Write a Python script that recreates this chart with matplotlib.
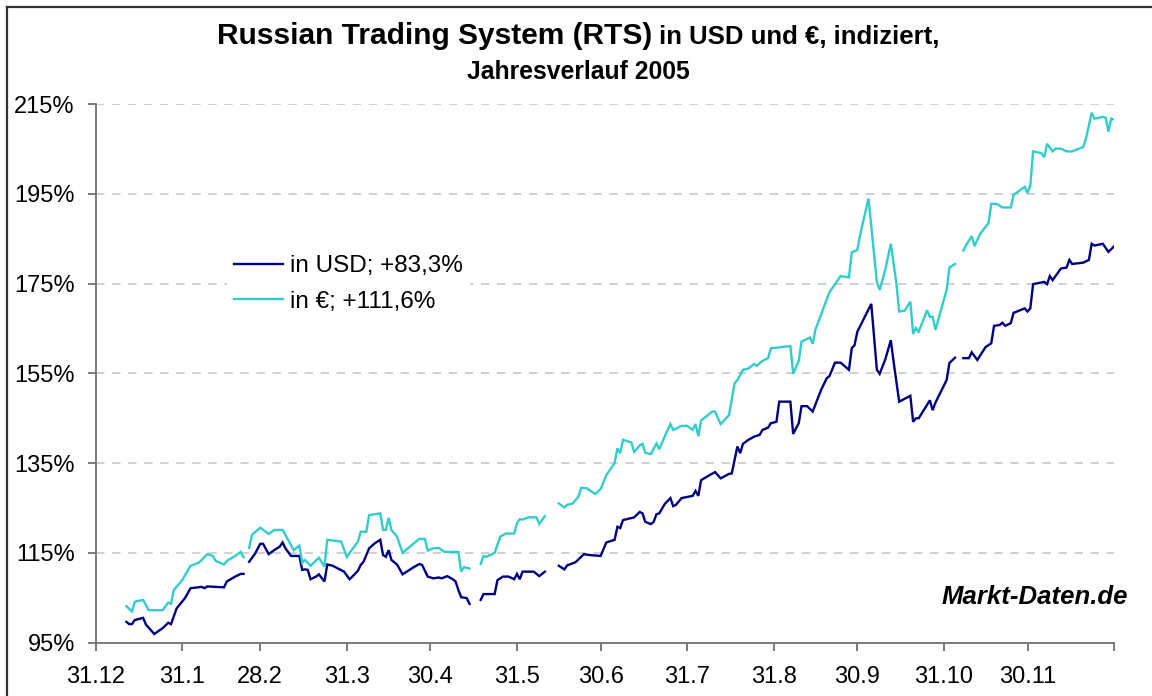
import numpy as np
import pandas as pd
import matplotlib
matplotlib.use("Agg")
import matplotlib.pyplot as plt
from matplotlib.lines import Line2D

plt.rcParams['font.family'] = ['Liberation Sans', 'DejaVu Sans']

# ---------------- data ----------------
title_main = "Russian Trading System (RTS)"
title_rest = " in USD und €, indiziert,"
title_line2 = "Jahresverlauf 2005"
watermark = "Markt-Daten.de"
series_labels = ["in USD; +83,3%", "in €; +111,6%"]
base_date = "2004-12-31"
tick_dates = ["2004-12-31", "2005-01-31", "2005-02-28", "2005-03-31", "2005-04-30",
              "2005-05-31", "2005-06-30", "2005-07-31", "2005-08-31", "2005-09-30",
              "2005-10-31", "2005-11-30", "2005-12-31"]
tick_labels = ["31.12", "31.1", "28.2", "31.3", "30.4", "31.5", "30.6", "31.7",
               "31.8", "30.9", "31.10", "30.11", ""]
y_ticks = [95, 115, 135, 155, 175, 195, 215]
y_labels = ["95%", "115%", "135%", "155%", "175%", "195%", "215%"]

nan = float("nan")
# days since 31.12.2004, index value in % (nan = no quote)
usd_days = [11, 12, 13, 14, 17, 18, 21, 24, 26, 27, 29, 32, 34, 38, 39, 40, 46, 47, 50, 52, 53,
            54,
            55, 57, 59, 60, 62, 64, 66, 67, 68, 70, 73, 74, 75, 76, 77, 79, 80, 82, 83, 85, 89,
            91, 92, 94, 95, 96, 98, 100, 102, 103, 104, 105, 106, 108, 110, 111, 114, 116, 117,
            119, 121, 123, 124, 126, 128, 129, 130, 131, 133, 134,
            136,
            138, 139, 143, 144, 146, 148, 150, 151, 152, 153, 157, 159, 161,
            163,
            166, 168, 169, 172, 175, 177, 181, 183, 186, 187, 188, 189, 193, 195, 196, 197, 199,
            200, 201, 202, 204, 206, 207, 208, 210, 214, 215, 216, 217, 220, 222, 224, 227, 228,
            230, 231, 232, 234, 236, 238, 239, 241, 242, 244, 245, 249, 250, 252, 253, 255, 257,
            260, 262, 263, 265, 267, 270, 271, 272, 273, 278, 280, 281, 283, 285, 286, 288, 292,
            293, 294, 295, 298, 299, 300, 301, 305, 306, 308,
            309,
            311, 313, 314, 316, 319, 321, 322, 324, 325, 326, 328, 329, 333, 334, 335, 336, 340,
            341, 342, 343, 346, 348, 349, 350, 354, 356, 357, 358, 361, 363, 365]
usd_values = [99.6, 99.1, 99.1, 100.0, 100.5, 99.0, 96.9, 98.2, 99.4, 99.1, 102.6, 104.9, 107.1,
              107.4, 107.1, 107.5, 107.3, 108.6, 109.7, 110.3, 110.3,
              nan,
              113.0, 114.7, 117.0, 117.0, 114.7, 115.6, 116.4, 117.3, 116.0, 114.3, 114.3, 111.2,
              111.3, 111.2, 109.1, 109.7, 110.2, 108.6, 112.4, 112.1, 110.8, 109.1, 109.7, 111.0,
              112.3, 113.0, 116.0, 117.1, 117.9, 114.5, 114.1, 115.6, 113.4, 112.4, 110.2, 110.6,
              111.8, 112.5, 112.3, 109.7, 109.3, 109.5, 109.3, 109.8, 109.1, 108.6, 106.7, 105.1,
              104.9, 103.6,
              nan,
              104.5, 105.8, 105.8, 108.9, 109.7, 109.7, 109.1, 110.3, 109.1, 110.8, 110.8, 109.8,
              110.8,
              nan,
              112.1, 111.3, 112.2, 112.9, 114.7, 114.5, 114.3, 117.3, 117.9, 120.8, 120.5, 122.3,
              122.9, 124.1, 123.8, 121.9, 121.4, 121.9, 123.6, 123.8, 125.9, 127.2, 125.4, 125.7,
              127.2, 127.7, 128.8, 127.7, 131.2, 132.3, 133.0, 131.6, 132.6, 132.7, 138.7, 137.2,
              139.3, 140.2, 140.9, 141.3, 142.4, 142.9, 143.9, 144.2, 148.7, 148.7, 141.5, 143.9,
              147.7, 147.7, 146.5, 151.3, 153.9, 154.4, 157.4, 157.4, 155.8, 160.6, 161.3, 164.3,
              170.5, 155.8, 154.9, 158.1, 162.4, 157.6, 148.7, 150.0, 144.2, 145.0, 145.0, 148.0,
              149.0, 146.8, 148.5, 153.5, 157.3, 158.5,
              nan,
              158.4, 158.4, 159.7, 158.0, 160.9, 161.7, 165.6, 165.8, 166.3, 165.6, 166.2, 168.5,
              169.5, 168.8, 169.5, 174.9, 175.4, 174.9, 176.7, 175.8, 178.4, 178.6, 180.3, 179.4,
              179.7, 180.3, 183.9, 183.5, 183.9, 182.1, 183.3]

eur_days = [11, 13, 14, 17, 19, 24, 26, 27, 28, 31, 34, 37, 40, 42, 43, 46, 47, 50, 52, 53,
            54,
            55, 56, 59, 62, 64, 67, 70, 71, 73, 74, 75, 77, 80, 82, 83, 88, 90, 94, 95, 97, 98,
            102, 103, 104, 105, 106, 108, 110, 114, 116, 118, 119, 121, 123, 125, 130, 131, 132,
            134,
            136,
            138, 139, 140, 143, 145, 147, 150, 151, 152, 153, 155, 158, 159, 161,
            163,
            166, 168, 169, 171, 173, 174, 176, 179, 181, 183, 186, 187, 188, 189, 192, 193, 195,
            196, 197, 199, 201, 202, 204, 206, 207, 210, 212, 214, 215, 216, 217, 221, 222, 224,
            227, 229, 230, 232, 234, 236, 237, 239, 241, 242, 245, 249, 250, 252, 253, 256, 257,
            258, 263, 267, 270, 271, 273, 274, 277, 280, 281, 283, 285, 287, 288, 290, 292, 293,
            294, 295, 298, 299, 300, 301, 302, 305, 306, 308,
            309,
            311, 312, 314, 315, 317, 320, 321, 323, 325, 328, 329, 333, 334, 335, 336, 339, 340,
            341, 343, 344, 346, 348, 350, 354, 355, 357, 358, 361, 362, 363, 364, 365]
eur_values = [103.1, 101.9, 104.1, 104.5, 102.2, 102.2, 103.9, 103.6, 106.7, 108.9, 112.1, 112.8,
              114.7, 114.3, 113.2, 112.4, 113.2, 114.3, 115.2, 114.0,
              nan,
              116.1, 119.0, 120.6, 119.2, 120.1, 120.1, 116.7, 115.6, 116.6, 112.8, 113.4, 112.1,
              113.9, 111.9, 117.9, 117.5, 114.1, 117.5, 119.7, 119.7, 123.4, 123.8, 120.1, 120.1,
              122.8, 120.1, 118.6, 115.0, 117.1, 118.1, 118.1, 115.5, 116.0, 116.1, 115.2, 115.2,
              110.8, 111.8, 111.5,
              nan,
              112.5, 114.3, 114.1, 115.0, 118.6, 119.3, 119.3, 121.6, 122.5, 122.4, 122.9, 122.9,
              121.4, 123.2,
              nan,
              126.0, 125.1, 125.7, 126.0, 127.5, 129.5, 129.4, 128.1, 129.2, 132.3, 135.0, 138.3,
              137.2, 140.2, 139.6, 137.5, 138.9, 139.3, 137.3, 137.0, 139.4, 138.1, 141.0, 143.7,
              142.4, 143.3, 143.3, 142.4, 143.7, 141.0, 144.5, 146.5, 146.5, 143.7, 145.7, 152.8,
              153.5, 155.8, 156.1, 157.1, 156.7, 157.8, 158.4, 160.6, 160.8, 161.1, 154.9, 157.8,
              162.1, 163.0, 161.6, 164.8, 173.1, 176.7, 176.4, 182.0, 182.5, 185.9, 194.0, 175.4,
              173.6, 178.1, 183.9, 175.1, 168.8, 169.0, 171.0, 163.8, 165.1, 164.3, 169.1, 167.6,
              167.6, 164.7, 166.9, 173.6, 178.6, 179.4,
              nan,
              182.4, 183.6, 185.6, 183.4, 186.1, 188.5, 192.8, 192.8, 192.0, 192.0, 194.8, 196.6,
              195.2, 196.9, 204.5, 204.1, 203.2, 206.2, 204.5, 205.1, 205.1, 204.5, 204.5, 205.5,
              207.5, 213.1, 211.8, 212.2, 212.0, 208.9, 211.8, 211.6]

usd_color = "#000080"
eur_color = "#33CCCC"

# ---------------- figure ----------------
W, H, DPI = 1152, 696, 100
fig = plt.figure(figsize=(W / DPI, H / DPI), dpi=DPI, facecolor="white")
ax = fig.add_axes([95.7 / W, 1 - 642.5 / H, (1114 - 95.7) / W, (642.5 - 104.3) / H])

ax.plot(usd_days, usd_values, color=usd_color, lw=1.7, label=series_labels[0],
        solid_joinstyle="miter")
ax.plot(eur_days, eur_values, color=eur_color, lw=1.7, label=series_labels[1],
        solid_joinstyle="miter")

base = pd.Timestamp(base_date)
tick_pos = [(pd.Timestamp(d) - base).days for d in tick_dates]
ax.set_xlim(tick_pos[0], tick_pos[-1])
ax.set_ylim(y_ticks[0], y_ticks[-1])
ax.set_xticks(tick_pos)
ax.set_xticklabels(tick_labels)
ax.set_yticks(y_ticks)
ax.set_yticklabels(y_labels)

for s in ["top", "right"]:
    ax.spines[s].set_visible(False)
for s in ["left", "bottom"]:
    ax.spines[s].set_color("#707070")
    ax.spines[s].set_linewidth(1.3)
ax.tick_params(axis="both", direction="out", length=6, width=1.3, color="#707070",
               labelsize=17, labelcolor="black")
ax.tick_params(axis="x", pad=11)
ax.tick_params(axis="y", pad=9)

for v in y_ticks[1:]:
    ax.axhline(v, color="#c4c4c4", lw=1.1, ls=(0, (5.5, 5)), zorder=0.5)

leg = ax.legend(loc="center left", bbox_to_anchor=(227 / W, 1 - 284 / H),
                bbox_transform=fig.transFigure, frameon=True, fancybox=False,
                edgecolor="none", facecolor="white", framealpha=1, borderpad=0.3,
                handlelength=2.0, handletextpad=0.3, labelspacing=0.55,
                prop={"size": 17.5}, borderaxespad=0)

# title
fig.text(652 / W, 1 - 44 / H, title_main, ha="right", va="baseline", fontsize=21.5,
         fontweight="bold")
fig.text(652 / W, 1 - 44 / H, title_rest, ha="left", va="baseline", fontsize=18.5,
         fontweight="bold")
fig.text(578 / W, 1 - 79 / H, title_line2, ha="center", va="baseline", fontsize=17.8,
         fontweight="bold")

# watermark
fig.text(1128 / W, 1 - 597 / H, watermark, ha="right", va="center", fontsize=18.5,
         fontweight="bold", fontstyle="italic")

# chart-area border (left and top edges visible)
fig.add_artist(Line2D([7 / W, 7 / W], [0, 1 - 7 / H], transform=fig.transFigure,
                      color="#303030", lw=1.6))
fig.add_artist(Line2D([7 / W, 1], [1 - 7 / H, 1 - 7 / H], transform=fig.transFigure,
                      color="#303030", lw=1.6))

fig.savefig("out.png", dpi=DPI, facecolor="white")
